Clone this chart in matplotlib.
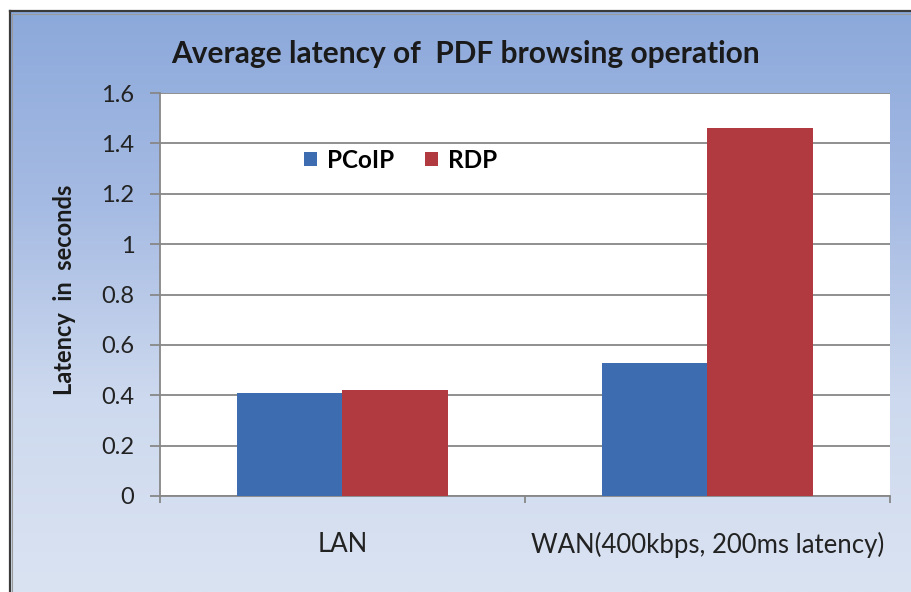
import numpy as np
import matplotlib
matplotlib.use("Agg")
import matplotlib.pyplot as plt
from matplotlib.patches import Patch
from matplotlib.lines import Line2D
from matplotlib.colors import LinearSegmentedColormap

plt.rcParams['font.family'] = ['Lato', 'DejaVu Sans']

# data
categories = ["LAN", "WAN(400kbps, 200ms latency)"]
series_names = ["PCoIP", "RDP"]
pcoip = [0.41, 0.53]
rdp = [0.42, 1.46]
y_ticks = [0, 0.2, 0.4, 0.6, 0.8, 1, 1.2, 1.4, 1.6]
y_tick_labels = ["0", "0.2", "0.4", "0.6", "0.8", "1", "1.2", "1.4", "1.6"]

blue = "#3d6cb0"
red = "#b03a3f"
grid_col = "#878787"

W, H = 912, 592
fig = plt.figure(figsize=(W / 100, H / 100), dpi=100)
fig.patch.set_facecolor("white")

# gradient background inside the frame
bg = fig.add_axes([11 / W, 0, 1 - 11 / W, 1 - 12 / H])
bg.set_axis_off()
cmap = LinearSegmentedColormap.from_list("bg", ["#8ca9db", "#a6bbe3", "#cdd9ee", "#dae3f2"])
grad = np.linspace(0, 1, 256).reshape(-1, 1)
bg.imshow(grad, aspect="auto", cmap=cmap, extent=[0, 1, 0, 1])

# frame lines (top and left)
fig.add_artist(Line2D([10 / W, 1], [1 - 11 / H, 1 - 11 / H], color="#3a3a3a", lw=1.6, transform=fig.transFigure))
fig.add_artist(Line2D([10 / W, 10 / W], [0, 1 - 11 / H], color="#3a3a3a", lw=1.6, transform=fig.transFigure))
fig.add_artist(Line2D([12.5 / W, 1], [1 - 13.5 / H, 1 - 13.5 / H], color="#9a9a9a", lw=0.8, transform=fig.transFigure))
fig.add_artist(Line2D([12.5 / W, 12.5 / W], [0, 1 - 13.5 / H], color="#9a9a9a", lw=0.8, transform=fig.transFigure))

ax = fig.add_axes([160 / W, 1 - 496 / H, 730 / W, 403 / H])
ax.set_facecolor("white")

x = np.arange(len(categories))
bw = 0.289
ax.bar(x - bw / 2, pcoip, bw, color=blue, zorder=3)
ax.bar(x + bw / 2, rdp, bw, color=red, zorder=3)

ax.set_xlim(-0.5, len(categories) - 0.5)
ax.set_ylim(0, 1.6)
ax.set_yticks(y_ticks)
ax.set_yticklabels(y_tick_labels)
ax.yaxis.grid(True, color=grid_col, lw=1.3, zorder=1)
ax.set_axisbelow(True)

for s in ["top", "right"]:
    ax.spines[s].set_visible(False)
for s in ["left", "bottom"]:
    ax.spines[s].set_color(grid_col)
    ax.spines[s].set_linewidth(1.3)

ax.tick_params(axis="y", direction="out", length=7.5, width=1.3, color=grid_col,
               labelsize=17, labelcolor="#222222", pad=11)
ax.set_xticks(np.arange(len(categories) + 1) - 0.5)
ax.set_xticklabels([])
ax.tick_params(axis="x", which="major", direction="out", length=5, width=1.3, color=grid_col)
ax.set_xticks(x, minor=True)
ax.set_xticklabels(categories, minor=True)
ax.tick_params(axis="x", which="minor", length=0, labelsize=18.5, labelcolor="#222222", pad=26)

handles = [Patch(facecolor=blue), Patch(facecolor=red)]
ax.legend(handles, series_names, loc="center left", bbox_to_anchor=(292 / W, 1 - 160 / H),
          bbox_transform=fig.transFigure, ncol=2, frameon=False, borderpad=0,
          handlelength=0.52, handleheight=0.52, handletextpad=0.4, columnspacing=1.3,
          prop={"weight": "bold", "size": 17.5})

fig.text(465 / W, 1 - 54 / H, "Average latency of  PDF browsing operation", ha="center", va="center",
         fontsize=21.5, fontweight="bold", color="#1a1a1a")
fig.text(65 / W, 1 - 290 / H, "Latency  in  seconds", rotation=90, ha="center", va="center",
         fontsize=17, fontweight="bold", color="#1a1a1a")

fig.savefig("out.png", dpi=100)
